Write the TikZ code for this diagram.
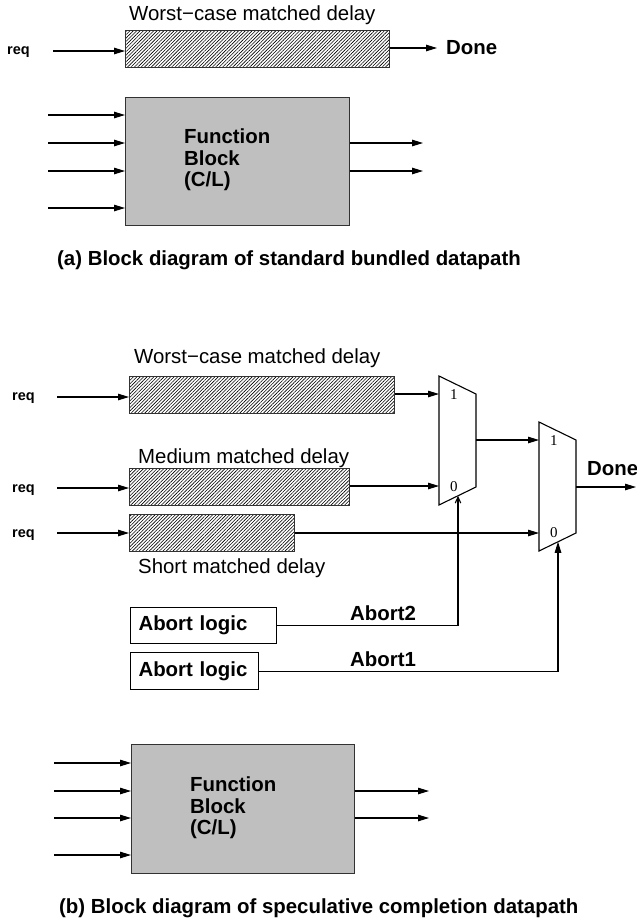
\documentclass[tikz,border=0pt]{standalone}
\usepackage{fontspec}
\setmainfont{Liberation Sans}
\newfontfamily\digfont{Liberation Serif}
\usetikzlibrary{arrows.meta,patterns.meta,calc}
\definecolor{fbgray}{RGB}{191,191,191}
\definecolor{edge}{RGB}{50,50,50}
\tikzset{
  arr/.style={line width=1.1pt,-{Triangle[length=11pt,width=6.5pt]}},
  openarr/.style={line width=1.1pt,-{Straight Barb[length=6pt,width=5.5pt]}},
  wire/.style={line width=1.1pt},
  hatchbox/.style={draw=edge,line width=1.3pt,inner sep=0pt,anchor=north west,
     pattern={Lines[angle=45,distance=2.4pt,line width=0.6pt]}},
  fbox/.style={draw=edge,line width=1.3pt,fill=fbgray,inner sep=0pt,anchor=north west},
  abox/.style={draw,line width=1.1pt,anchor=north west,inner xsep=8pt,inner ysep=0pt,align=left,
     font=\fontsize{20.4}{21.4}\selectfont\bfseries},
  lbl/.style={inner sep=0pt,anchor=base west,font=\fontsize{20.4}{21.4}\selectfont},
  blbl/.style={inner sep=0pt,anchor=base west,font=\fontsize{20.4}{21.4}\selectfont\bfseries},
  reqlbl/.style={inner sep=0pt,anchor=base west,font=\fontsize{14.5}{16}\selectfont\bfseries},
  fntxt/.style={inner sep=0pt,anchor=north west,align=left,font=\fontsize{20.4}{21.4}\selectfont\bfseries},
  dig/.style={inner sep=0pt,anchor=base west,font=\fontsize{15}{16}\selectfont\digfont},
  mux/.style={line width=1.1pt}
}
\begin{document}
\begin{tikzpicture}[x=1pt,y=-1pt]
\useasboundingbox (0,0) rectangle (637,921);
% ---------------- (a) ----------------
\node[lbl] (t0) at (129,20) {Worst\textminus case matched delay};
\node[hatchbox,minimum width=264pt,minimum height=37pt] (d0) at (125,30) {};
\node[reqlbl] (q0) at (7,54) {req};
\coordinate (r0) at (53,51);
\draw[arr] (r0) -- (r0 -| d0.west);
\coordinate (o0) at (437,48);
\draw[arr] (o0 -| d0.east) -- (o0);
\node[blbl] (done0) at (446,54) {Done};
\node[fbox,minimum width=224pt,minimum height=128pt] (f0) at (125,97) {};
\foreach \yy [count=\i] in {115,143,171,208}{
  \coordinate (fa\i) at (48,\yy);
  \draw[arr] (fa\i) -- (fa\i -| f0.west);
}
\foreach \yy [count=\i] in {143,171}{
  \coordinate (fo\i) at (423,\yy);
  \draw[arr] (fo\i -| f0.east) -- (fo\i);
}
\node[fntxt] (ft0) at (184,129) {Function\\Block\\(C/L)};
\node[blbl] (capa) at (57,265) {(a) Block diagram of standard bundled datapath};
% ---------------- (b) ----------------
\node[lbl] (t1) at (134,363) {Worst\textminus case matched delay};
\node[hatchbox,minimum width=265pt,minimum height=37pt] (d1) at (129,376) {};
\node[lbl] (t2) at (138,463) {Medium matched delay};
\node[hatchbox,minimum width=220pt,minimum height=37pt] (d2) at (129,468) {};
\node[hatchbox,minimum width=165pt,minimum height=37pt] (d3) at (129,514) {};
\node[lbl] (t3) at (138,573) {Short matched delay};
\node[reqlbl] (q1) at (12,400) {req};
\node[reqlbl] (q2) at (12,492) {req};
\node[reqlbl] (q3) at (12,537) {req};
\coordinate (r1) at (57,397);
\coordinate (r2) at (57,488);
\coordinate (r3) at (57,533);
\draw[arr] (r1) -- (r1 -| d1.west);
\draw[arr] (r2) -- (r2 -| d2.west);
\draw[arr] (r3) -- (r3 -| d3.west);
% mux 1
\coordinate (m1tl) at (439,376);
\coordinate (m1tr) at (476,394);
\coordinate (m1br) at (476,487);
\coordinate (m1bl) at (439,505);
\draw[mux] (m1tl) -- (m1tr) -- (m1br) -- (m1bl) -- cycle;
% mux 2
\coordinate (m2tl) at (539,422);
\coordinate (m2tr) at (576,440);
\coordinate (m2br) at (576,533);
\coordinate (m2bl) at (539,551);
\draw[mux] (m2tl) -- (m2tr) -- (m2br) -- (m2bl) -- cycle;
\node[dig] (m1one) at (450,399) {1};
\node[dig] (m1zero) at (450,491) {0};
\node[dig] (m2one) at (550,445) {1};
\node[dig] (m2zero) at (550,537) {0};
\coordinate (m1i1) at (439,394);
\coordinate (m1i0) at (439,486);
\coordinate (m2i0) at (539,533);
\draw[arr] (m1i1 -| d1.east) -- (m1i1);
\draw[arr] (m1i0 -| d2.east) -- (m1i0);
\draw[arr] (m2i0 -| d3.east) -- (m2i0);
\coordinate (m1o) at (476,440);
\coordinate (m2i1) at (539,440);
\draw[arr] (m1o) -- (m2i1);
\coordinate (m2o) at (576,487);
\coordinate (dn) at (636,487);
\draw[arr] (m2o) -- (dn);
\node[blbl] (done1) at (587,475) {Done};
% abort logic
\node[abox,text width=130pt,minimum height=36pt] (a2) at (130,607) {Abort logic};
\node[abox,text width=112pt,minimum height=37pt] (a1) at (130,652) {Abort logic};
\coordinate (s1) at ($(m1bl)!0.5135!(m1br)$);
\coordinate (s2) at ($(m2bl)!0.5135!(m2br)$);
\draw[openarr] (a2.east) -| (s1);
\draw[arr] (a1.east) -| (s2);
\node[blbl] (ab2) at (350,620) {Abort2};
\node[blbl] (ab1) at (350,666) {Abort1};
% function block 2
\node[fbox,minimum width=223pt,minimum height=129pt] (f1) at (131,744) {};
\foreach \yy [count=\i] in {763,791,818,855}{
  \coordinate (fb\i) at (54,\yy);
  \draw[arr] (fb\i) -- (fb\i -| f1.west);
}
\foreach \yy [count=\i] in {791,818}{
  \coordinate (fp\i) at (429,\yy);
  \draw[arr] (fp\i -| f1.east) -- (fp\i);
}
\node[fntxt] (ft1) at (190,777) {Function\\Block\\(C/L)};
\node[blbl] (capb) at (59,913) {(b) Block diagram of speculative completion datapath};
\end{tikzpicture}
\end{document}
